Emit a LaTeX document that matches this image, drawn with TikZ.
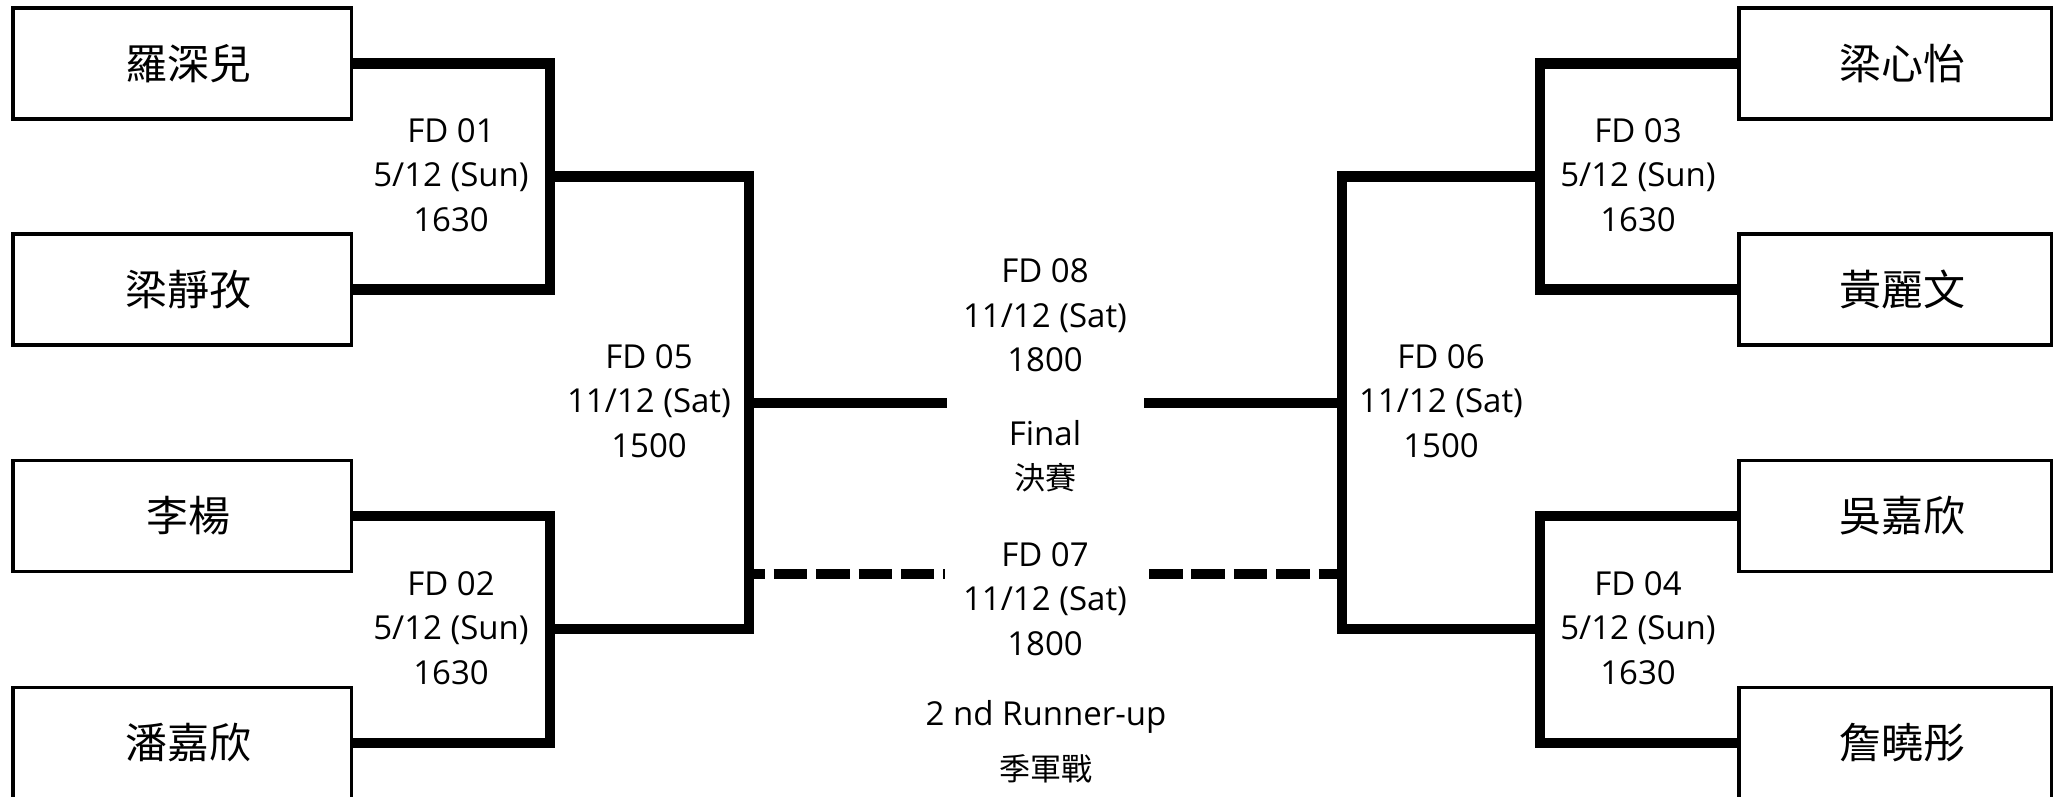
\documentclass[tikz,border=0pt]{standalone}
\usepackage{fontspec}
\setmainfont{Open Sans}
\newfontfamily\cjk{Noto Sans CJK TC}
\begin{document}
\begin{tikzpicture}[x=1pt,y=-1pt,
  namebox/.style={draw, line width=3.5pt, minimum width=338.5pt, minimum height=111pt, inner sep=0pt,
    font=\cjk\fontsize{42}{50}\selectfont, execute at begin node={\hspace*{13pt}}},
  rightbox/.style={namebox, minimum width=312.5pt, execute at begin node={\hspace*{2pt}}},
  bracket/.style={line width=10.5pt, line join=miter, line cap=butt},
  dashline/.style={line width=10.5pt, line cap=butt, dash pattern=on 33.5pt off 8.9pt},
  matchinfo/.style={align=center, font=\fontsize{33}{44.5}\selectfont, inner sep=0pt},
  caption/.style={font=\fontsize{33}{40}\selectfont, inner sep=0pt, anchor=base},
  cjkcaption/.style={font=\cjk\fontsize{31}{36}\selectfont, inner sep=0pt}]
\useasboundingbox (0,0) rectangle (2065,796);
\clip (0,0) rectangle (2065,796);

% player boxes
\node[namebox] (p1) at (182,63.5) {羅深兒};
\node[namebox] (p2) at (182,289.5) {梁靜孜};
\node[namebox] (p3) at (182,516) {李楊};
\node[namebox] (p4) at (182,743) {潘嘉欣};
\node[rightbox] (p5) at (1895,63.5) {梁心怡};
\node[rightbox] (p6) at (1895,289.5) {黃麗文};
\node[rightbox] (p7) at (1895,516) {吳嘉欣};
\node[rightbox] (p8) at (1895,743) {詹曉彤};

% bracket columns and junctions
\coordinate (v1) at (550,0);
\coordinate (v2) at (749,0);
\coordinate (v3) at (1342,0);
\coordinate (v4) at (1540,0);
\coordinate (j1) at (550,176.5);
\coordinate (j2) at (550,629);
\coordinate (j3) at (1540,176.5);
\coordinate (j4) at (1540,629);
\coordinate (k1) at (749,403);
\coordinate (f1) at (947,403);
\coordinate (f2) at (1144,403);
\coordinate (k2) at (1342,403);
\coordinate (d1) at (749,574);
\coordinate (e1) at (945,574);
\coordinate (e2) at (1149,574);
\coordinate (d2) at (1342,574);

% first round
\draw[bracket] (p1.east) -- (p1.east -| v1) -- (p2.east -| v1) -- (p2.east);
\draw[bracket] (p3.east) -- (p3.east -| v1) -- (p4.east -| v1) -- (p4.east);
\draw[bracket] (p5.west) -- (p5.west -| v4) -- (p6.west -| v4) -- (p6.west);
\draw[bracket] (p7.west) -- (p7.west -| v4) -- (p8.west -| v4) -- (p8.west);
% semi finals
\draw[bracket] (j1) -- (j1 -| v2) -- (j2 -| v2) -- (j2);
\draw[bracket] (j3) -- (j3 -| v3) -- (j4 -| v3) -- (j4);
% final
\draw[bracket] (k1) -- (f1);
\draw[bracket] (f2) -- (k2);
% third place
\draw[dashline, dash phase=17.7pt] (d1) -- (e1);
\draw[dashline] (e2) -- (d2);

% match labels
\node[matchinfo] (m1) at (451,175) {FD 01\\5/12 (Sun)\\1630};
\node[matchinfo] (m2) at (451,628) {FD 02\\5/12 (Sun)\\1630};
\node[matchinfo] (m3) at (1638,175) {FD 03\\5/12 (Sun)\\1630};
\node[matchinfo] (m4) at (1638,628) {FD 04\\5/12 (Sun)\\1630};
\node[matchinfo] (m5) at (649,401) {FD 05\\11/12 (Sat)\\1500};
\node[matchinfo] (m6) at (1441,401) {FD 06\\11/12 (Sat)\\1500};
\node[matchinfo] (m8) at (1045,315.5) {FD 08\\11/12 (Sat)\\1800};
\node[caption] (fin) at (1045,445) {Final};
\node[cjkcaption] (fin2) at (1045,477.5) {決賽};
\node[matchinfo] (m7) at (1045,599) {FD 07\\11/12 (Sat)\\1800};
\node[caption] (ru) at (1046,725) {2 nd Runner-up};
\node[cjkcaption] (ru2) at (1046,768.5) {季軍戰};
\end{tikzpicture}
\end{document}
